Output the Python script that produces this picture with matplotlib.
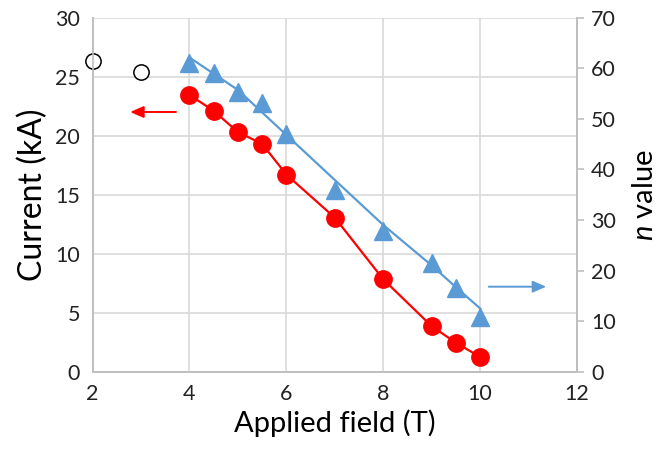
import matplotlib.pyplot as plt
import numpy as np

# measured data
field = [4, 4.5, 5, 5.5, 6, 7, 8, 9, 9.5, 10]
current = [23.45, 22.1, 20.3, 19.3, 16.7, 13.05, 7.83, 3.85, 2.45, 1.25]
n_value = [61.0, 59.0, 55.2, 53.1, 46.9, 35.9, 27.8, 21.4, 16.6, 10.9]

# earlier (open) current points
field_old = [2, 3]
current_old = [26.35, 25.37]

# trend line through the n values
field_line = [4, 5, 6, 7, 8, 9, 9.5, 10]
n_line = [62.1, 55.7, 46.8, 37.9, 29.0, 21.0, 16.7, 12.5]

red = '#FF0000'
blue = '#5B9BD5'
grid = '#D9D9D9'
axis_col = '#BFBFBF'

plt.rcParams['font.family'] = ['Lato', 'DejaVu Sans']
plt.rcParams['mathtext.fontset'] = 'custom'
plt.rcParams['mathtext.rm'] = 'Lato'
plt.rcParams['mathtext.it'] = 'Lato:italic'

fig = plt.figure(figsize=(6.61, 4.5), dpi=100)
ax = fig.add_axes([0.140, 0.174, 0.733, 0.787])
ax2 = ax.twinx()

ax.set_xlim(2, 12)
ax.set_ylim(0, 30)
ax2.set_ylim(0, 70)
ax.set_xticks(range(2, 13, 2))
ax.set_yticks(range(0, 31, 5))
ax2.set_yticks(range(0, 71, 10))

ax.grid(True, color=grid, linewidth=1.2)
ax.set_axisbelow(True)
for a in (ax, ax2):
    a.spines['top'].set_visible(False)
    for s in ('left', 'bottom', 'right'):
        a.spines[s].set_color(axis_col)
        a.spines[s].set_linewidth(1.2)

ax.tick_params(axis='both', length=0, labelsize=15.5, pad=9, colors='#222222')
ax2.tick_params(axis='y', length=5, width=1.2, color=axis_col, labelsize=15.5,
                pad=5, labelcolor='#222222')

ax.plot(field, current, '-', color=red, lw=1.6, zorder=3)
ax.plot(field, current, 'o', color=red, ms=12.5, zorder=4)
ax.plot(field_old, current_old, 'o', mfc='white', mec='black', mew=1.1, ms=11,
        zorder=4, clip_on=False)

ax2.plot(field_line, n_line, '-', color=blue, lw=1.6, zorder=3)
ax2.plot(field, n_value, '^', color=blue, ms=13.5, zorder=4)

ax.annotate('', xy=(2.72, 22.0), xytext=(3.78, 22.0),
            arrowprops=dict(arrowstyle='-|>,head_length=0.8,head_width=0.35',
                            color=red, lw=1.4))
ax2.annotate('', xy=(11.42, 16.8), xytext=(10.12, 16.8),
             arrowprops=dict(arrowstyle='-|>,head_length=0.8,head_width=0.35',
                             color=blue, lw=1.4))

ax.set_xlabel('Applied field (T)', fontsize=21, labelpad=4)
ax.set_ylabel('Current (kA)', fontsize=23, labelpad=5)
ax2.set_ylabel('$\\mathit{n}$ value', fontsize=21, labelpad=12)

fig.savefig('out.png', dpi=100)
